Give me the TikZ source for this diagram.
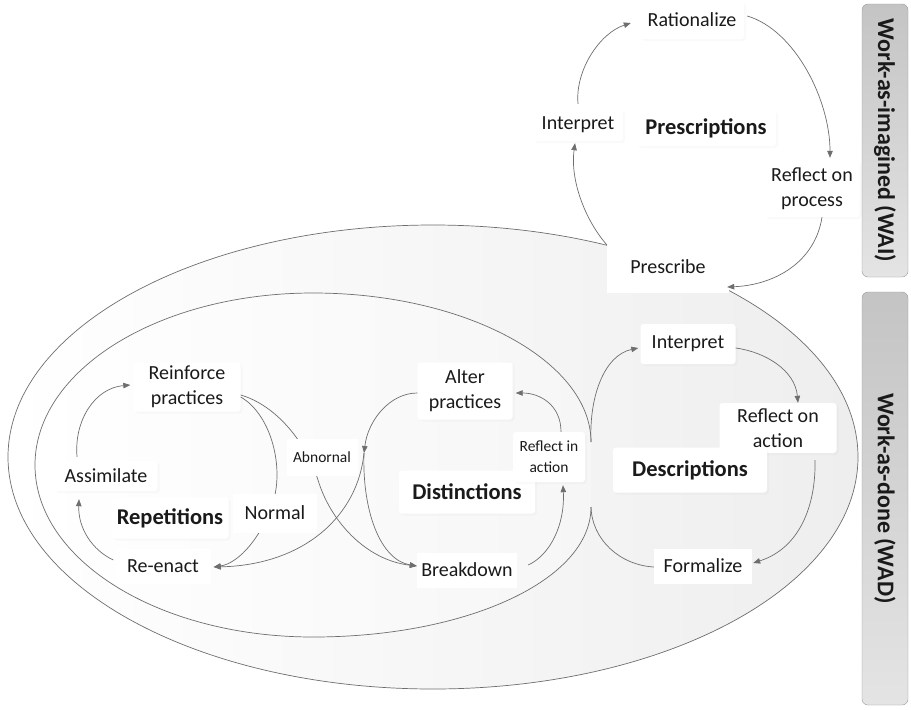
\documentclass[tikz,border=0pt]{standalone}
\usepackage{fontspec}
\setmainfont{Carlito}
\usetikzlibrary{arrows.meta,shadows,calc}
\definecolor{ln}{HTML}{6E6E6E}
\definecolor{txt}{HTML}{1A1A1A}
\definecolor{shadeR}{HTML}{EEEEEE}
\definecolor{shadeI}{HTML}{F6F6F6}
\definecolor{barL}{HTML}{E4E4E4}
\definecolor{barR}{HTML}{C4C4C4}
\begin{document}
\begin{tikzpicture}[x=1pt,y=-1pt,
  conn/.style={draw=ln, line width=0.7pt},
  arr/.style={conn, -{Triangle[length=7pt,width=5.5pt]}},
  lbl/.style={fill=white, inner sep=0pt, align=center, text=txt, font=\fontsize{20}{25}\selectfont},
  soft/.style={lbl, rounded corners=3pt, drop shadow={opacity=0.04, shadow xshift=2pt, shadow yshift=-2pt}},
  smalltxt/.style={font=\fontsize{15.5}{21}\selectfont},
  ttl/.style={font=\bfseries\fontsize{22.5}{27}\selectfont},
  side/.style={draw=black!40, rounded corners=6pt, inner sep=0pt, minimum height=46pt,
     top color=barR, bottom color=barL, rotate=-90, text=txt,
     font=\bfseries\fontsize{24}{28}\selectfont}
]
\useasboundingbox (0,0) rectangle (911,710);

% big regions
\path[fill=white] (0,0) rectangle (911,710);
\path[conn, left color=white, right color=shadeR] (433,457) ellipse [x radius=425, y radius=232];
\coordinate (cT) at (591,442);
\coordinate (cB) at (591,507);
\path[left color=white, right color=shadeI]
  (cT) .. controls (591,362) and (467,293) .. (313,293)
  .. controls (159,293) and (35,370) .. (35,465)
  .. controls (35,560) and (159,637) .. (313,637)
  .. controls (467,637) and (591,580) .. (cB) -- cycle;
\draw[conn]
  (cT) .. controls (591,362) and (467,293) .. (313,293)
  .. controls (159,293) and (35,370) .. (35,465)
  .. controls (35,560) and (159,637) .. (313,637)
  .. controls (467,637) and (591,580) .. (cB);

% side bars
\node[side, minimum width=273pt] (wai) at (885,140.5) {Work-as-imagined (WAI)};
\node[side, minimum width=413pt] (wad) at (885,498.5) {Work-as-done (WAD)};

\coordinate (M) at (364,453);

% label boxes
\path
  node[soft, minimum width=104, minimum height=38] (rat) at (692,20) {Rationalize}
  node[soft, minimum width=90, minimum height=32] (pint) at (578,125) {Interpret}
  node[soft, ttl, minimum width=140, minimum height=36] (presc) at (706,128) {Prescriptions}
  node[soft, minimum width=95, minimum height=56] (rop) at (812,189) {Reflect on\\process}
  node[lbl, minimum width=122, minimum height=52] (pre) at (668,267) {Prescribe}
  node[soft, minimum width=95, minimum height=40] (dint) at (688,344) {Interpret}
  node[soft, minimum width=117, minimum height=50] (roa) at (778,428) {Reflect on\\action}
  node[soft, ttl, minimum width=154, minimum height=45] (desc) at (690,470) {Descriptions}
  node[lbl, minimum width=98, minimum height=35] (form) at (703,566) {Formalize}
  node[soft, ttl, minimum width=136, minimum height=43] (dist) at (467,492) {Distinctions}
  node[soft, smalltxt, minimum width=72, minimum height=50] (ria) at (549,457) {Reflect in\\action}
  node[soft, minimum width=95, minimum height=57] (ap) at (465,391) {Alter\\practices}
  node[lbl, minimum width=100, minimum height=35] (bd) at (467,570) {Breakdown}
  node[soft, minimum width=107, minimum height=49] (rf) at (187,387) {Reinforce\\practices}
  node[soft, minimum width=103, minimum height=30] (as) at (106,476) {Assimilate}
  node[soft, ttl, minimum width=117, minimum height=41] (rep) at (170,518) {Repetitions}
  node[lbl, minimum width=95, minimum height=35] (reen) at (163,566) {Re-enact};

% pass-through connectors (partly covered by the Normal / Abnornal boxes)
\draw[arr] ($(rf.east)+(0,10)$) .. controls (272,415) and (285,470) .. (272,505)
   .. controls (262,535) and (240,563) .. ($(reen.east)+(3,1)$);
\draw[arr] ($(rf.east)+(0,8)$) .. controls (275,405) and (305,440) .. (318,480)
   .. controls (330,520) and (365,560) .. ($(bd.west)+(0,-4)$);

\node[lbl, minimum width=84, minimum height=39] (norm) at (275,513) {Normal};
\node[lbl, smalltxt, minimum width=71, minimum height=37] (abn) at (322,457) {Abnornal};

% prescriptions cycle
\draw[arr] ($(pint.north)+(0,-5)$) .. controls (575,70) and (600,33) .. ($(rat.west)+(-9,3)$);
\draw[arr] ($(rat.east)+(3,-4)$) .. controls (795,30) and (830,100) .. ($(rop.north)+(18,-3)$);
\draw[arr] ($(rop.south)+(10,0)$) .. controls (815,262) and (775,285) .. ($(pre.east)+(-2,20)$);
\draw[arr] ($(pre.north west)+(0,4)$) .. controls (585,220) and (570,180) .. ($(pint.south)+(-3,2)$);

% descriptions cycle
\draw[arr] (cT) .. controls (589,395) and (605,355) .. ($(dint.west)+(-2,4)$);
\draw[arr] ($(dint.east)+(0,4)$) .. controls (765,352) and (795,370) .. ($(roa.north)+(20,0)$);
\draw[arr] ($(roa.south)+(37,7)$) .. controls (816,505) and (800,548) .. ($(form.east)+(1,-3)$);
\draw[conn] ($(form.west)+(0,1)$) .. controls (620,565) and (592,540) .. (cB);

% distinctions cycle
\draw[arr] ($(bd.east)+(11,-5)$) .. controls (550,555) and (565,525) .. ($(ria.south)+(14,3)$);
\draw[arr] ($(ria.north)+(12,0)$) .. controls (561,405) and (540,393) .. ($(ap.east)+(3,2)$);
\draw[arr] ($(ap.west)+(0,2)$) .. controls (390,393) and (368,420) .. (M);
\draw[arr] (M) .. controls (362,510) and (380,560) .. ($(bd.west)+(0,-4)$);
\draw[arr] (M) .. controls (358,515) and (305,565) .. ($(reen.east)+(3,1)$);

% repetitions cycle
\draw[arr] ($(reen.west)+(-2,-6)$) .. controls (92,550) and (78,528) .. ($(as.south)+(-27,8)$);
\draw[arr] ($(as.north)+(-29,-4)$) .. controls (74,420) and (95,388) .. ($(rf.west)+(-3,-2)$);
\end{tikzpicture}
\end{document}
